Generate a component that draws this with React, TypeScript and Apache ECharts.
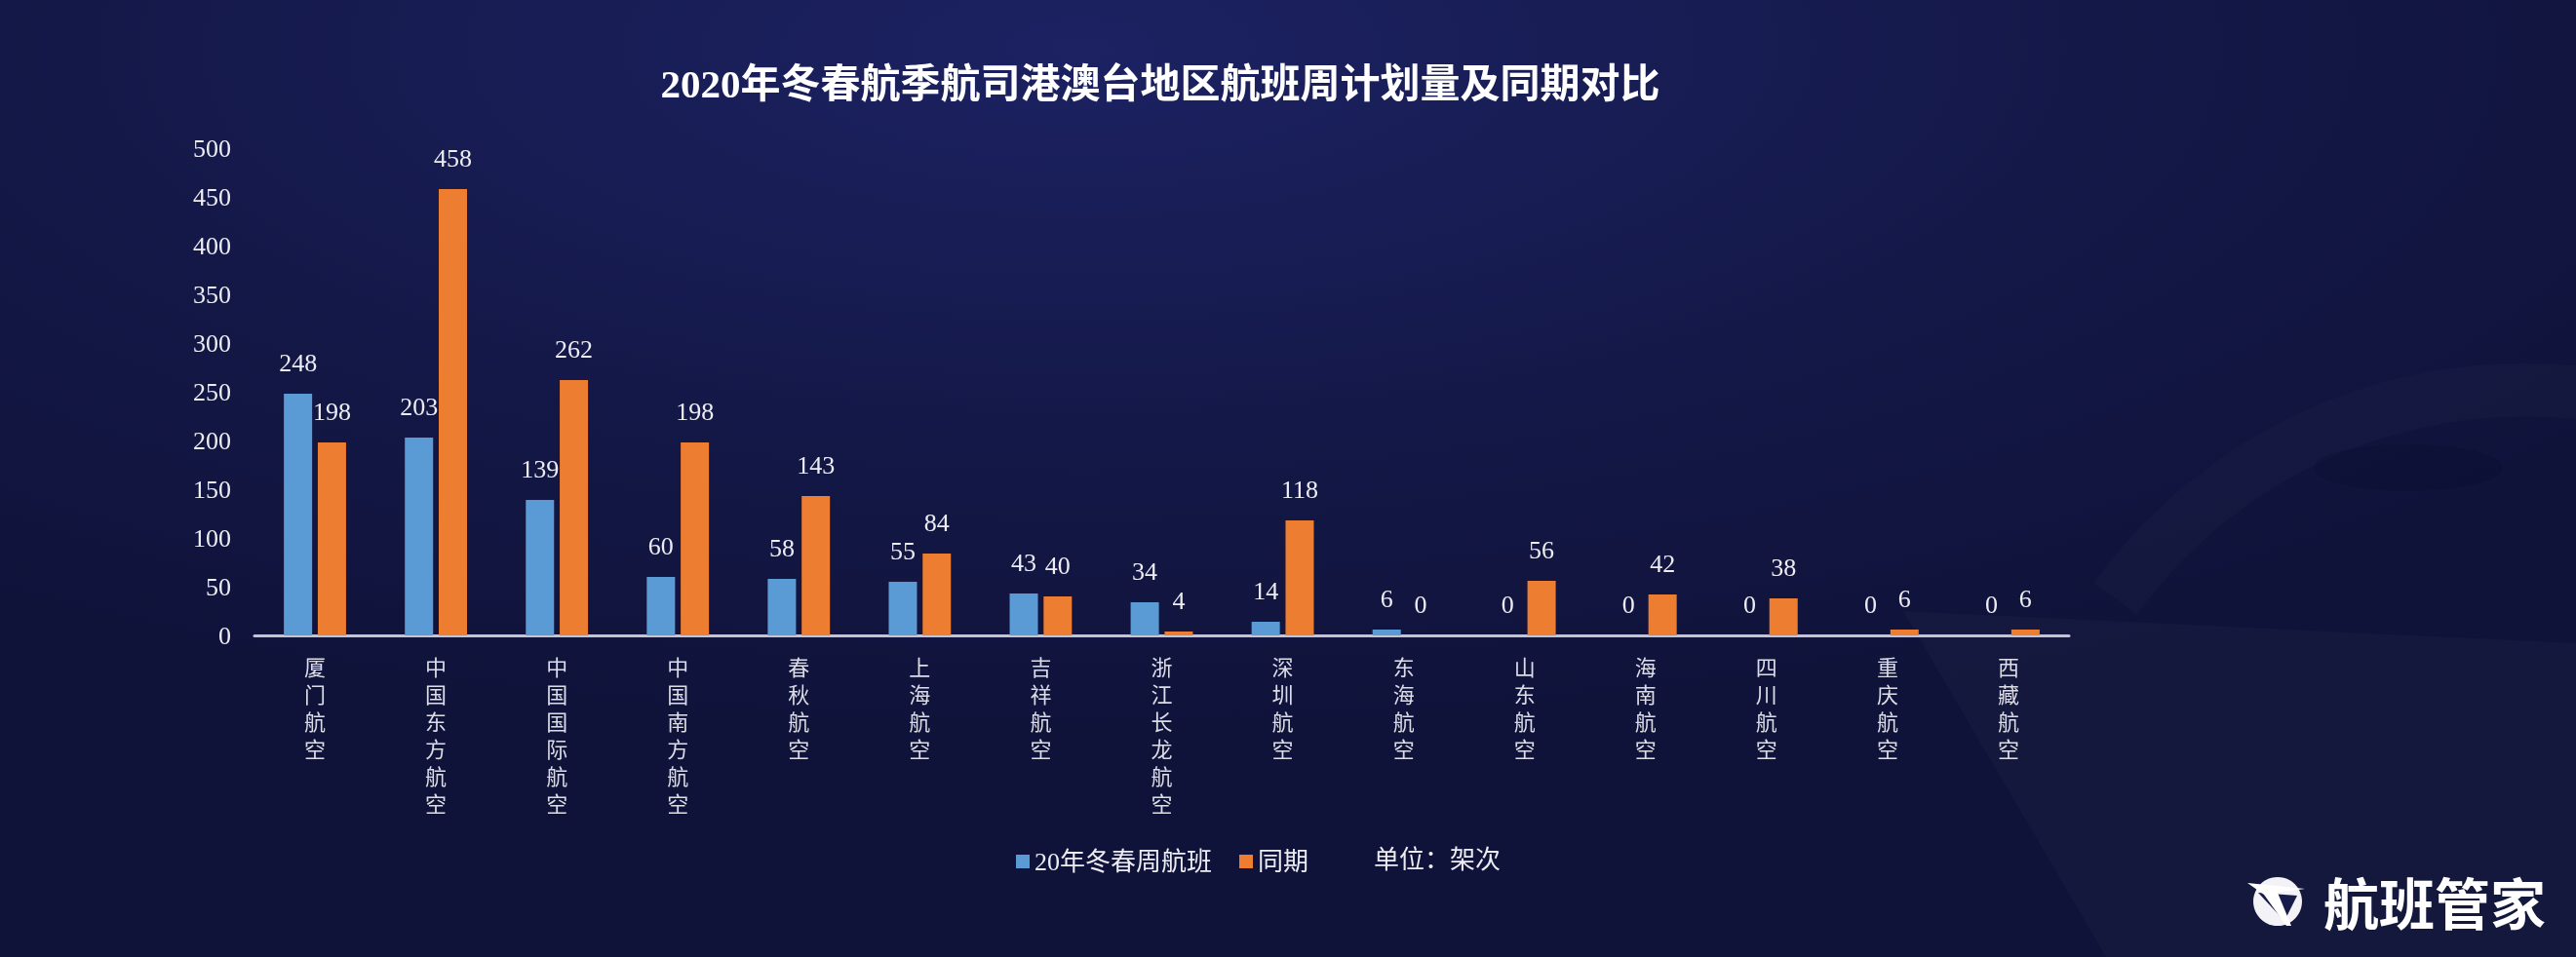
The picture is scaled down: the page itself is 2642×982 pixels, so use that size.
import React, { useEffect, useRef } from "react";
import * as echarts from "echarts";

const categories = [
  "厦门航空", "中国东方航空", "中国国际航空", "中国南方航空", "春秋航空",
  "上海航空", "吉祥航空", "浙江长龙航空", "深圳航空", "东海航空",
  "山东航空", "海南航空", "四川航空", "重庆航空", "西藏航空",
];
const winter2020 = [248, 203, 139, 60, 58, 55, 43, 34, 14, 6, 0, 0, 0, 0, 0];
const samePeriod = [198, 458, 262, 198, 143, 84, 40, 4, 118, 0, 56, 42, 38, 6, 6];
const seriesNames = ["20年冬春周航班", "同期"];
const titleText = "2020年冬春航季航司港澳台地区航班周计划量及同期对比";
const unitText = "单位：架次";
const brandText = "航班管家";

const SERIF = "'Liberation Serif', 'Times New Roman', 'Noto Sans CJK SC', serif";
const TEXT = "#ececf2";

export default function App() {
  const ref = useRef<HTMLDivElement>(null);
  useEffect(() => {
    if (!ref.current) return;
    const chart = echarts.init(ref.current, undefined, { renderer: "svg" });
    const labelStyle = {
      show: true,
      position: "top",
      distance: 19,
      color: TEXT,
      fontSize: 26,
      fontFamily: SERIF,
    };
    chart.setOption({
      animation: false,
      graphic: [
        {
          type: "rect",
          z: -100,
          silent: true,
          shape: { x: 0, y: 0, width: 2642, height: 982 },
          style: {
            fill: new echarts.graphic.RadialGradient(0.42, 0.05, 0.75, [
              { offset: 0, color: "#1c2262" },
              { offset: 0.6, color: "#131745" },
              { offset: 1, color: "#0f1339" },
            ]),
          },
        },
        {
          type: "polygon",
          z: -90,
          silent: true,
          shape: { points: [[1952, 627], [2642, 660], [2642, 982], [2160, 982]] },
          style: { fill: "rgba(255,255,255,0.022)" },
        },
        {
          type: "arc",
          z: -90,
          silent: true,
          shape: { cx: 2590, cy: 920, r: 520, startAngle: 3.77, endAngle: 5.3 },
          style: { stroke: "rgba(255,255,255,0.018)", lineWidth: 55, fill: "none" },
        },
        {
          type: "ellipse",
          z: -89,
          silent: true,
          shape: { cx: 2470, cy: 480, rx: 97, ry: 24 },
          style: { fill: "rgba(5,8,35,0.18)" },
        },
        {
          type: "text",
          z: 10,
          x: 1409,
          y: 882,
          style: {
            text: unitText,
            fill: TEXT,
            fontSize: 26,
            fontFamily: SERIF,
            textAlign: "left",
            textVerticalAlign: "middle",
          },
        },
        {
          type: "circle",
          z: 10,
          shape: { cx: 2336, cy: 925, r: 25 },
          style: { fill: "#f2f2f7" },
        },
        {
          type: "polygon",
          z: 11,
          shape: { points: [[2316, 916], [2356, 919], [2343, 945]] },
          style: { fill: "#171b4a" },
        },
        {
          type: "polygon",
          z: 12,
          shape: { points: [[2305, 906], [2364, 912], [2336, 916], [2350, 950], [2345, 950], [2322, 918]] },
          style: { fill: "#ffffff" },
        },
        {
          type: "text",
          z: 10,
          x: 2383,
          y: 924,
          style: {
            text: brandText,
            fill: "#ffffff",
            fontSize: 57,
            fontWeight: "bold",
            fontFamily: "'Noto Sans CJK SC', sans-serif",
            textAlign: "left",
            textVerticalAlign: "middle",
          },
        },
      ],
      title: {
        text: titleText,
        left: 1185,
        top: 60,
        textAlign: "center",
        textStyle: {
          color: "#ffffff",
          fontSize: 41,
          fontWeight: "bold",
          fontFamily: SERIF,
        },
      },
      legend: {
        data: seriesNames,
        left: 1037,
        top: 866,
        icon: "rect",
        itemWidth: 14,
        itemHeight: 14,
        itemGap: 28,
        textStyle: { color: TEXT, fontSize: 26, fontFamily: SERIF },
      },
      grid: { left: 261, right: 520, top: 152, bottom: 330, containLabel: false },
      xAxis: {
        type: "category",
        data: categories,
        axisLine: { show: true, lineStyle: { color: "#c4c4cc", width: 3 } },
        axisTick: { show: false },
        axisLabel: {
          interval: 0,
          margin: 17,
          color: "#dcdce6",
          fontSize: 22,
          lineHeight: 28,
          fontFamily: "'Noto Sans CJK SC', serif",
          formatter: (v: string) => v.split("").join("\n"),
        },
      },
      yAxis: {
        type: "value",
        min: 0,
        max: 500,
        interval: 50,
        splitLine: { show: false },
        axisLine: { show: false },
        axisTick: { show: false },
        axisLabel: { margin: 24, color: TEXT, fontSize: 26, fontFamily: SERIF },
      },
      series: [
        {
          name: seriesNames[0],
          type: "bar",
          data: winter2020,
          barWidth: 29,
          barGap: "20%",
          itemStyle: { color: "#5b9bd5" },
          label: labelStyle,
        },
        {
          name: seriesNames[1],
          type: "bar",
          data: samePeriod,
          barWidth: 29,
          barGap: "20%",
          itemStyle: { color: "#ed7d31" },
          label: labelStyle,
        },
      ],
    });
    return () => chart.dispose();
  }, []);
  return (
    <div
      ref={ref}
      style={{ position: "fixed", left: 0, top: 0, width: 2642, height: 982 }}
    />
  );
}
